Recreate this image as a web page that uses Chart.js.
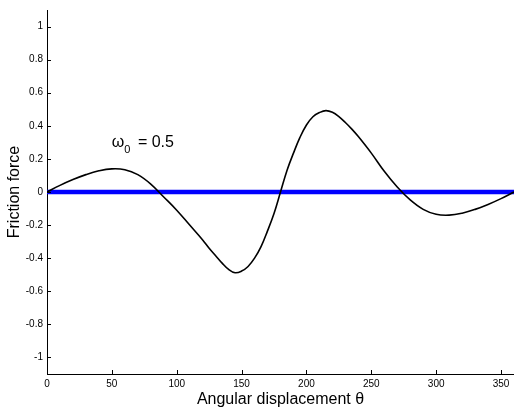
<!DOCTYPE html>
<html>
<head>
<meta charset="utf-8">
<script src="https://cdn.jsdelivr.net/npm/chart.js@4.4.1/dist/chart.umd.min.js"></script>
<style>
  html, body { margin: 0; padding: 0; background: #fff; }
  #wrap { width: 514px; height: 414px; position: relative; }
</style>
</head>
<body>
<div id="wrap"><canvas id="frictionChart"></canvas></div>
<script>
// ==================== DATA ====================
const theta = [0, 10, 20, 30, 40, 50, 60, 70, 80, 90, 100, 110, 120,
               125, 130, 135, 140, 145, 150, 155, 160, 165, 170, 175, 180,
               185, 190, 195, 200, 205, 210, 215, 220, 225, 230, 235, 240,
               250, 260, 270, 280, 290, 300, 310, 320, 330, 340, 350, 360];
const friction = [0, 0.04, 0.075, 0.105, 0.128, 0.14, 0.135, 0.105, 0.048, -0.03, -0.11, -0.2, -0.29,
                  -0.34, -0.385, -0.43, -0.468, -0.488, -0.478, -0.45, -0.4, -0.33, -0.235, -0.13, 0,
                  0.13, 0.235, 0.33, 0.405, 0.455, 0.48, 0.492, 0.482, 0.456, 0.42, 0.38, 0.335,
                  0.235, 0.125, 0.03, -0.048, -0.105, -0.135, -0.14, -0.128, -0.105, -0.075, -0.04, 0];
const zeroLineX = [0, 360];
const zeroLineY = [0, 0];
const xTicks = [0, 50, 100, 150, 200, 250, 300, 350];
const yTicks = [-1, -0.8, -0.6, -0.4, -0.2, 0, 0.2, 0.4, 0.6, 0.8, 1];
const omegaLabel = { x: 50, y: 0.27, value: '0.5' };

const FONT = "'Liberation Sans', Arial, Helvetica, sans-serif";

// inward tick marks on the left and bottom axes
const innerTicks = {
    id: 'innerTicks',
    afterDraw(chart) {
        const ctx = chart.ctx;
        const xs = chart.scales.x, ys = chart.scales.y;
        const area = chart.chartArea;
        ctx.save();
        ctx.strokeStyle = '#000';
        ctx.lineWidth = 1;
        ctx.beginPath();
        xs.ticks.forEach(t => {
            const px = Math.round(xs.getPixelForValue(t.value)) + 0.5;
            ctx.moveTo(px, area.bottom);
            ctx.lineTo(px, area.bottom - 4);
        });
        ys.ticks.forEach(t => {
            const py = Math.round(ys.getPixelForValue(t.value)) + 0.5;
            ctx.moveTo(area.left, py);
            ctx.lineTo(area.left + 4, py);
        });
        ctx.stroke();
        ctx.restore();
    }
};

// omega_0 annotation with subscript
const omegaText = {
    id: 'omegaText',
    afterDraw(chart) {
        const ctx = chart.ctx;
        const px = chart.scales.x.getPixelForValue(omegaLabel.x);
        const py = chart.scales.y.getPixelForValue(omegaLabel.y);
        ctx.save();
        ctx.fillStyle = '#000';
        ctx.textBaseline = 'alphabetic';
        ctx.textAlign = 'left';
        ctx.font = '16px ' + FONT;
        ctx.fillText('ω', px, py);
        let x = px + ctx.measureText('ω').width;
        ctx.font = '11px ' + FONT;
        ctx.fillText('0', x, py + 6);
        x += ctx.measureText('0').width;
        ctx.font = '16px ' + FONT;
        ctx.fillText(' = ' + omegaLabel.value, x + 3, py);
        ctx.restore();
    }
};

const fmt = v => {
    const r = Math.round(v * 10) / 10;
    return r === 0 ? '0' : String(r);
};

const ctx = document.getElementById('frictionChart').getContext('2d');
const chart = new Chart(ctx, {
    type: 'line',
    data: {
        datasets: [
            {
                data: theta.map((t, i) => ({ x: t, y: friction[i] })),
                borderColor: '#000',
                borderWidth: 1.6,
                pointRadius: 0,
                tension: 0.4,
                fill: false
            },
            {
                data: zeroLineX.map((t, i) => ({ x: t, y: zeroLineY[i] })),
                borderColor: '#0000ff',
                borderWidth: 4.5,
                pointRadius: 0,
                fill: false
            }
        ]
    },
    options: {
        responsive: true,
        maintainAspectRatio: false,
        animation: false,
        layout: { padding: { top: 4, right: 0, left: 0, bottom: 0 } },
        plugins: { legend: { display: false }, tooltip: { enabled: false } },
        scales: {
            x: {
                type: 'linear',
                min: 0, max: 360,
                afterBuildTicks: s => { s.ticks = xTicks.map(v => ({ value: v })); },
                afterFit: s => { s.height = 40; },
                grid: { display: false, drawTicks: false },
                border: { color: '#000', width: 1 },
                ticks: { color: '#000', padding: 4, font: { family: FONT, size: 10 }, maxRotation: 0, callback: v => String(v) },
                title: { display: true, text: 'Angular displacement θ', color: '#000', font: { family: FONT, size: 16 }, padding: { top: 0, bottom: 5 } }
            },
            y: {
                type: 'linear',
                min: -1.1, max: 1.1,
                afterBuildTicks: s => { s.ticks = yTicks.map(v => ({ value: v })); },
                afterFit: s => { s.width = 47; },
                grid: { display: false, drawTicks: false },
                border: { color: '#000', width: 1 },
                ticks: { color: '#000', padding: 4, font: { family: FONT, size: 10 }, callback: fmt },
                title: { display: true, text: 'Friction force', color: '#000', font: { family: FONT, size: 16 }, padding: { top: 5, bottom: 0 } }
            }
        }
    },
    plugins: [innerTicks, omegaText]
});
</script>
</body>
</html>
